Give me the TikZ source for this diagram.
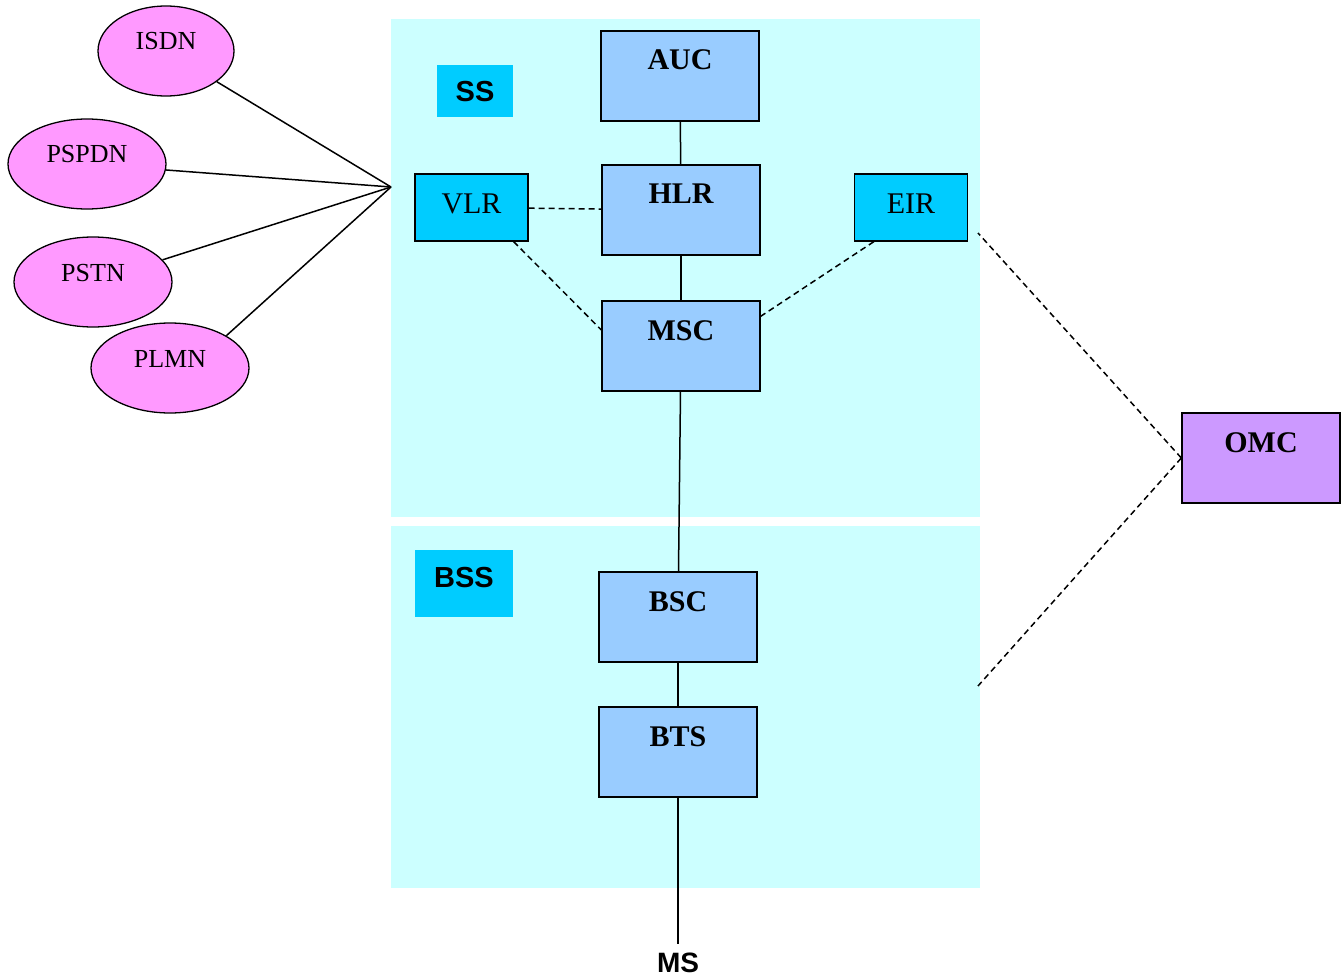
\documentclass[tikz,border=0pt]{standalone}
\usepackage{fontspec}
\setmainfont{Liberation Serif}
\setsansfont{Liberation Sans}
\usepackage{tikz}
\usetikzlibrary{shapes.geometric}

\definecolor{ssback}{HTML}{CCFFFF}
\definecolor{tagblue}{HTML}{00CCFF}
\definecolor{unitblue}{HTML}{99CCFF}
\definecolor{omcviolet}{HTML}{CC99FF}
\definecolor{netpink}{HTML}{FF99FF}

\tikzset{
	unit/.style={draw=black, line width=1.3pt, fill=unitblue, inner sep=0pt,
		minimum width=158pt, text height=39pt, text depth=51pt,
		font=\fontsize{30}{36}\selectfont\bfseries},
	register/.style={draw=black, line width=1.3pt, fill=tagblue, inner sep=0pt,
		minimum width=113pt, text height=39pt, text depth=28pt,
		font=\fontsize{30}{36}\selectfont},
	net/.style={shape=ellipse, draw=black, line width=1.3pt, fill=netpink, inner sep=0pt,
		minimum height=90pt, text height=17pt, text depth=19pt,
		font=\fontsize{26}{30}\selectfont},
	tag/.style={fill=tagblue, inner sep=0pt, font=\sffamily\bfseries\fontsize{29}{34}\selectfont},
	link/.style={line width=1.5pt},
	dlink/.style={line width=1.5pt, dash pattern=on 6pt off 4pt}
}

\begin{document}
\begin{tikzpicture}[x=1pt, y=-1pt]
	
	\useasboundingbox (0,0) rectangle (1342,979);
	\fill[ssback] (391,19) rectangle (980,517);
	\fill[ssback] (391,526) rectangle (980,888);
	
	\node[tag, minimum width=76pt, text height=37pt, text depth=15pt] (ss) at (475,91) {SS};
	\node[tag, minimum width=98pt, text height=37pt, text depth=30pt] (bss) at (464,583.5) {BSS};
	
	\node[unit] (auc) at (680,76)     {AUC};
	\node[unit] (hlr) at (681,210)    {HLR};
	\node[unit] (msc) at (681,346)    {MSC};
	\node[unit] (bsc) at (678,617)    {BSC};
	\node[unit] (bts) at (678,752)    {BTS};
	\node[unit, fill=omcviolet] (omc) at (1261,458) {OMC};
	\node[register] (vlr) at (471.5,207.5) {VLR};
	\node[register] (eir) at (911,207.5)   {EIR};
	
	\node[net, minimum width=136pt] (isdn)  at (166,51)  {ISDN};
	\node[net, minimum width=158pt] (pspdn) at (87,164)  {PSPDN};
	\node[net, minimum width=158pt] (pstn)  at (93,282)  {PSTN};
	\node[net, minimum width=158pt] (plmn)  at (170,368) {PLMN};
	
	\node[inner sep=0pt, outer sep=9pt, font=\sffamily\bfseries\fontsize{28}{32}\selectfont] (ms) at (678,963) {MS};
	
	\coordinate (hub) at (391,187);
	\coordinate (ssedge) at (978,233);
	\coordinate (bssedge) at (978,686);
	
	\path[link] (isdn)  edge (hub);
	\path[link] (pspdn) edge (hub);
	\path[link] (pstn)  edge (hub);
	\path[link] (plmn.north east) edge (hub);
	
	\path[link] (auc) edge (hlr);
	\path[link] (hlr) edge (msc);
	\path[link] (msc) edge (bsc);
	\path[link] (bsc) edge (bts);
	\path[link] (bts) edge (ms);
	
	\path[dlink] (vlr) edge (hlr);
	\path[dlink] ([xshift=-15pt]vlr.south east) edge ([yshift=16pt]msc.west);
	\path[dlink] ([xshift=20pt]eir.south west) edge ([yshift=-16pt]msc.north east);
	\path[dlink] (omc.west) edge (ssedge);
	\path[dlink] (omc.west) edge (bssedge);
	
\end{tikzpicture}
\end{document}
